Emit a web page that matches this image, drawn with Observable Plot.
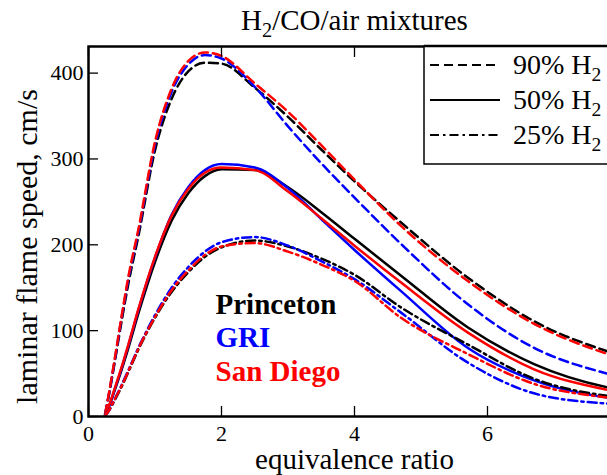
<!DOCTYPE html>
<html>
<head>
<meta charset="utf-8">
<script src="https://cdn.jsdelivr.net/npm/d3@7"></script>
<script src="https://cdn.jsdelivr.net/npm/@observablehq/plot@0.6"></script>
<style>
  html, body { margin: 0; padding: 0; background: #fff; overflow: hidden; }
  #chart { width: 607px; height: 475px; overflow: hidden; }
  #chart svg { font-family: "Liberation Serif", "DejaVu Serif", serif; max-width: none !important; }
</style>
</head>
<body>
<div id="chart"></div>
<script>
// ---- data ----
const phi = [0.25, 0.3, 0.4, 0.5, 0.6, 0.75, 1.0, 1.25, 1.5, 1.75, 2.0, 2.5, 3.0, 3.5, 4.0, 4.7, 5.7, 6.7, 7.8, 8.0];

const princeton90 = [3, 22, 66, 112, 155, 210, 310, 370, 402, 412, 411, 383, 349, 311, 274, 226, 162, 111, 76, 71];
const gri90       = [3, 23, 68, 116, 160, 215, 316, 378, 410, 421, 417, 384, 338, 295, 255, 201, 131, 80, 50, 46];
const sandiego90  = [3, 24, 70, 118, 163, 218, 320, 382, 414, 424, 420, 388, 355, 316, 276, 222, 158, 108, 73, 68];

const princeton50 = [2, 10, 32, 55, 80, 120, 180, 228, 260, 280, 288, 287, 267, 238, 207, 164, 104, 61, 34, 31];
const gri50       = [2, 10, 33, 57, 83, 124, 185, 235, 267, 287, 294, 290, 266, 230, 194, 146, 80, 42, 22, 20];
const sandiego50  = [2, 11, 34, 58, 84, 125, 186, 234, 265, 284, 290, 287, 262, 231, 199, 156, 98, 55, 31, 28];

const princeton25 = [1, 6, 20, 35, 52, 78, 115, 145, 168, 186, 197, 205, 198, 184, 165, 127, 84, 44, 24, 22];
const gri25       = [1, 6, 21, 37, 54, 80, 118, 150, 174, 192, 203, 209, 199, 181, 160, 121, 63, 27, 15, 14];
const sandiego25  = [1, 6, 21, 36, 53, 79, 116, 147, 170, 188, 198, 202, 192, 177, 158, 115, 73, 38, 22, 20];

const mechanisms = ["Princeton", "GRI", "San Diego"];
const mechColors = ["#000000", "#0000ff", "#ff0000"];
const mixtures = ["90% H2", "50% H2", "25% H2"];
const xTicks = [0, 2, 4, 6, 8];
const xTickLabels = [0, 2, 4, 6];
const yTicks = [0, 100, 200, 300, 400];
const title = "H2/CO/air mixtures";
const xLabel = "equivalence ratio";
const yLabel = "laminar flame speed, cm/s";

// ---- table ----
const seriesByMix = {
  "90% H2": [princeton90, gri90, sandiego90],
  "50% H2": [princeton50, gri50, sandiego50],
  "25% H2": [princeton25, gri25, sandiego25]
};
const rows = [];
for (const mix of mixtures) {
  seriesByMix[mix].forEach((vals, m) => {
    vals.forEach((v, i) => rows.push({phi: phi[i], speed: v, mix, mech: mechanisms[m]}));
  });
}
const dashes = {"90% H2": "9,5", "50% H2": null, "25% H2": "9,4,2.5,4"};

const serif = "Liberation Serif, DejaVu Serif, serif";
const lineMarks = mixtures.map(mix => Plot.line(rows.filter(r => r.mix === mix), {
  x: "phi", y: "speed", z: "mech", stroke: "mech",
  strokeWidth: 2.5, strokeDasharray: dashes[mix], curve: "monotone-x"
}));

const chart = Plot.plot({
  width: 620, height: 475,
  marginLeft: 88, marginRight: 0, marginTop: 46, marginBottom: 59,
  style: {fontFamily: serif, background: "#fff", overflow: "visible", maxWidth: "none"},
  x: {domain: [0, 8]},
  y: {domain: [0, 431]},
  color: {domain: mechanisms, range: mechColors},
  marks: [
    ...lineMarks,
    Plot.axisX({ticks: xTicks, tickSize: -10, tickFormat: () => "", label: null, strokeWidth: 1.3}),
    Plot.axisX({ticks: xTickLabels, tickSize: 0, tickPadding: 9, fontSize: 22, label: null, color: "#000"}),
    Plot.axisX({anchor: "top", ticks: xTicks, tickSize: -10, tickFormat: () => "", label: null, strokeWidth: 1.3}),
    Plot.axisY({ticks: yTicks, tickSize: -10, tickPadding: 15, fontSize: 22, label: null, color: "#000", strokeWidth: 1.3}),
    Plot.axisY({anchor: "right", ticks: yTicks, tickSize: -10, tickFormat: () => "", label: null, strokeWidth: 1.3}),
    Plot.frame({stroke: "#000", strokeWidth: 2.5}),
    Plot.text([title], {frameAnchor: "top", dy: -26, lineAnchor: "middle", fontSize: 29, fill: "#000"}),
    Plot.text([xLabel], {frameAnchor: "bottom", dy: 43, lineAnchor: "middle", fontSize: 29, fill: "#000"}),
    Plot.text([yLabel], {frameAnchor: "left", dx: -61, dy: 15, rotate: -90, textAnchor: "middle", lineAnchor: "middle", fontSize: 30, fill: "#000"}),
    ...mechanisms.map((name, i) => Plot.text([name], {
      frameAnchor: "bottom-left", dx: 127, dy: -103 + i * 33.5, textAnchor: "start", lineAnchor: "bottom",
      fontSize: 29, fontWeight: "bold", fill: mechColors[i]
    }))
  ]
});
document.getElementById("chart").appendChild(chart);

// subscript for H2 in the title
const svg = d3.select(chart);
svg.selectAll("text").filter(function() { return d3.select(this).text() === title; }).each(function() {
  const t = d3.select(this);
  t.text(null);
  t.append("tspan").text("H");
  t.append("tspan").attr("font-size", "0.7em").attr("dy", "0.35em").text("2");
  t.append("tspan").attr("dy", "-0.245em").text("/CO/air mixtures");
});

// legend box (pixel layout)
const lg = svg.append("g").attr("font-family", serif).attr("text-anchor", "start");
lg.append("rect").attr("x", 424).attr("y", 46).attr("width", 220).attr("height", 118)
  .attr("fill", "#fff").attr("stroke", "#000").attr("stroke-width", 1.5);
lg.append("line").attr("x1", 424).attr("x2", 640).attr("y1", 46).attr("y2", 46).attr("stroke", "#000").attr("stroke-width", 2.5);
mixtures.forEach((mix, i) => {
  const y = 65 + i * 35;
  lg.append("line").attr("x1", 430).attr("x2", 500).attr("y1", y).attr("y2", y)
    .attr("stroke", "#000").attr("stroke-width", 2).attr("stroke-dasharray", dashes[mix]);
  const t = lg.append("text").attr("x", 513).attr("y", y).attr("dy", "0.32em").attr("font-size", 28).attr("fill", "#000");
  t.append("tspan").text(mix.replace(" H2", " H"));
  t.append("tspan").attr("font-size", "0.7em").attr("dy", "0.35em").text("2");
});
</script>
</body>
</html>
